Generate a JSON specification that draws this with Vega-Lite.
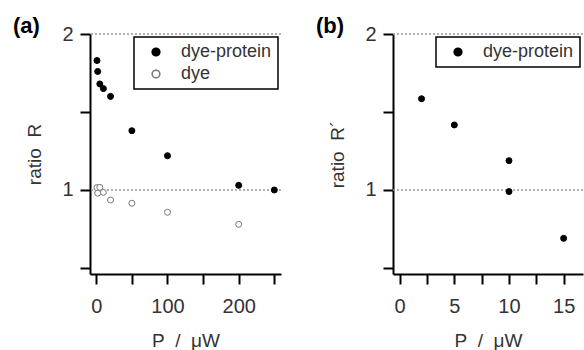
{
  "$schema": "https://vega.github.io/schema/vega-lite/v6.json",
  "padding": {"left": 13, "top": 15, "right": 0, "bottom": 0},
  "background": "white",
  "bounds": "flush",
  "spacing": 112,
  "resolve": {"scale": {"fill": "independent", "stroke": "independent"}, "legend": {"fill": "independent", "stroke": "independent"}},
  "config": {
    "view": {"stroke": null},
    "font": "Liberation Sans",
    "axis": {
      "grid": false,
      "domainColor": "black",
      "domainWidth": 2,
      "tickColor": "black",
      "tickWidth": 2,
      "tickSize": 10,
      "labelFont": "Liberation Sans",
      "labelFontSize": 20,
      "labelColor": "#333",
      "titleFont": "Liberation Sans",
      "titleFontSize": 19,
      "titleFontWeight": "normal",
      "titleColor": "#333"
    },
    "legend": {
      "orient": "top-right",
      "offset": 3,
      "strokeColor": "black",
      "strokeWidth": 1.5,
      "padding": 6,
      "labelFont": "Liberation Sans",
      "labelFontSize": 18,
      "labelColor": "#333",
      "labelOffset": 16,
      "symbolOffset": 7,
      "symbolSize": 60,
      "rowPadding": 4,
      "fillColor": "white"
    },
    "title": {
      "font": "Liberation Sans",
      "fontSize": 22,
      "fontWeight": "bold",
      "anchor": "start",
      "frame": "group",
      "baseline": "alphabetic",
      "color": "black"
    }
  },
  "datasets": {
    "a": [
      {"P": 1, "R": 1.83, "series": "dye-protein"},
      {"P": 2, "R": 1.76, "series": "dye-protein"},
      {"P": 5, "R": 1.68, "series": "dye-protein"},
      {"P": 10, "R": 1.65, "series": "dye-protein"},
      {"P": 20, "R": 1.60, "series": "dye-protein"},
      {"P": 50, "R": 1.38, "series": "dye-protein"},
      {"P": 100, "R": 1.22, "series": "dye-protein"},
      {"P": 200, "R": 1.03, "series": "dye-protein"},
      {"P": 250, "R": 1.00, "series": "dye-protein"},
      {"P": 1, "R": 1.015, "series": "dye"},
      {"P": 2, "R": 0.98, "series": "dye"},
      {"P": 5, "R": 1.017, "series": "dye"},
      {"P": 10, "R": 0.985, "series": "dye"},
      {"P": 20, "R": 0.936, "series": "dye"},
      {"P": 50, "R": 0.915, "series": "dye"},
      {"P": 100, "R": 0.857, "series": "dye"},
      {"P": 200, "R": 0.78, "series": "dye"}
    ],
    "b": [
      {"P": 2, "R": 1.585, "series": "dye-protein"},
      {"P": 5, "R": 1.417, "series": "dye-protein"},
      {"P": 10, "R": 1.188, "series": "dye-protein"},
      {"P": 10, "R": 0.99, "series": "dye-protein"},
      {"P": 15, "R": 0.69, "series": "dye-protein"}
    ],
    "refs": [{"y": 1}, {"y": 2}]
  },
  "hconcat": [
    {
      "width": 191,
      "height": 240,
      "title": {"text": "(a)", "dx": -77, "dy": 18},
      "layer": [
        {
          "data": {"name": "refs"},
          "mark": {"type": "rule", "color": "#999", "strokeDash": [2, 2], "strokeWidth": 1.5},
          "encoding": {"y": {"field": "y", "type": "quantitative", "scale": {"domain": [0.4615, 2]}}}
        },
        {
          "data": {"name": "a"},
          "mark": {"type": "point", "shape": "circle", "size": 36, "strokeWidth": 1, "opacity": 1},
          "encoding": {
            "x": {"field": "P", "type": "quantitative", "scale": {"domain": [-8.8, 259.4], "nice": false, "zero": false},
                  "axis": {"values": [0, 50, 100, 150, 200, 250], "labelExpr": "datum.value % 100 == 0 && datum.value < 250 ? '' + datum.value : ''", "title": "P\u00a0\u00a0/\u00a0\u00a0μW", "labelPadding": 12, "titlePadding": 15}},
            "y": {"field": "R", "type": "quantitative", "scale": {"domain": [0.4615, 2], "nice": false, "zero": false},
                  "axis": {"values": [0.5, 1, 1.5, 2], "labelExpr": "datum.value == 1 || datum.value == 2 ? '' + datum.value : ''", "title": "ratio\u00a0\u00a0R", "labelPadding": 7, "titlePadding": 17}},
            "fill": {"field": "series", "type": "nominal", "scale": {"domain": ["dye-protein", "dye"], "range": ["black", "white"]}, "legend": {"title": null}},
            "stroke": {"field": "series", "type": "nominal", "scale": {"domain": ["dye-protein", "dye"], "range": ["black", "#777"]}, "legend": {"title": null}}
          }
        }
      ]
    },
    {
      "width": 190,
      "height": 240,
      "title": {"text": "(b)", "dx": -77, "dy": 18},
      "layer": [
        {
          "data": {"name": "refs"},
          "mark": {"type": "rule", "color": "#999", "strokeDash": [2, 2], "strokeWidth": 1.5},
          "encoding": {"y": {"field": "y", "type": "quantitative", "scale": {"domain": [0.4615, 2]}}}
        },
        {
          "data": {"name": "b"},
          "mark": {"type": "point", "shape": "circle", "size": 36, "strokeWidth": 1, "opacity": 1},
          "encoding": {
            "x": {"field": "P", "type": "quantitative", "scale": {"domain": [-0.61, 16.77], "nice": false, "zero": false},
                  "axis": {"values": [0, 2.5, 5, 7.5, 10, 12.5, 15], "labelExpr": "datum.value % 5 == 0 ? '' + datum.value : ''", "title": "P\u00a0\u00a0/\u00a0\u00a0μW", "labelPadding": 12, "titlePadding": 15}},
            "y": {"field": "R", "type": "quantitative", "scale": {"domain": [0.4615, 2], "nice": false, "zero": false},
                  "axis": {"values": [0.5, 1, 1.5, 2], "labelExpr": "datum.value == 1 || datum.value == 2 ? '' + datum.value : ''", "title": "ratio\u00a0\u00a0R´", "labelPadding": 7, "titlePadding": 17}},
            "fill": {"field": "series", "type": "nominal", "scale": {"domain": ["dye-protein"], "range": ["black"]}, "legend": {"title": null}},
            "stroke": {"field": "series", "type": "nominal", "scale": {"domain": ["dye-protein"], "range": ["black"]}, "legend": {"title": null}}
          }
        }
      ]
    }
  ]
}
